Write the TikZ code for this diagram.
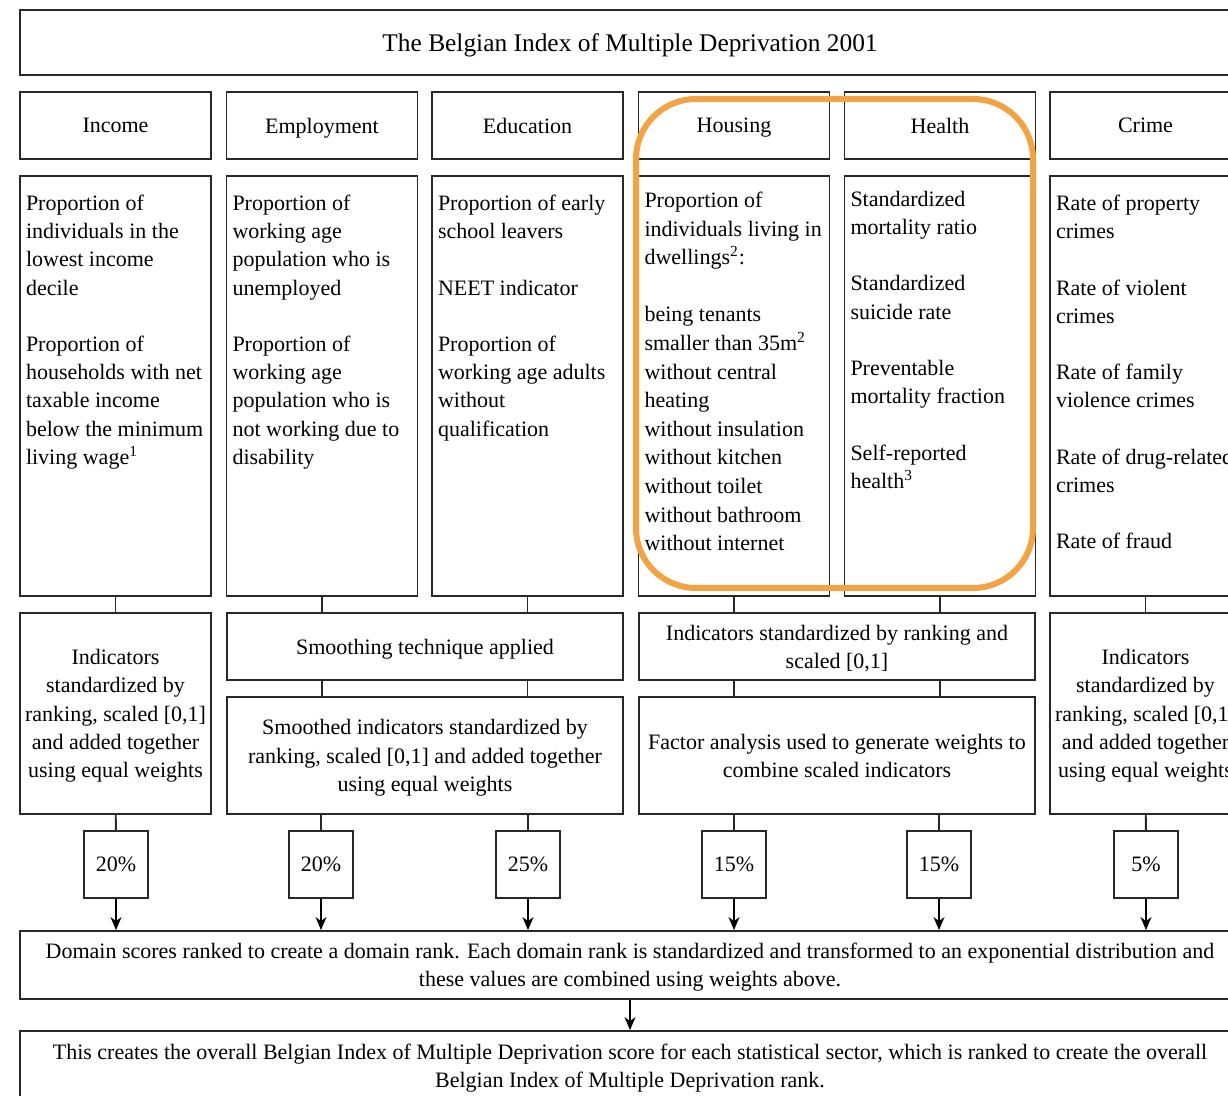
\documentclass[tikz,border=0pt]{standalone}
\usepackage{fontspec}
\setmainfont{Liberation Serif}
\usepackage{color}
\definecolor{myorange}{RGB}{242,163,68}
\definecolor{mygrey}{RGB}{40,40,40}
\usepackage{tikz}
\usetikzlibrary{arrows.meta,positioning,calc}

\begin{document}
\begin{tikzpicture}[
  x=0.5pt, y=-0.5pt,
  font=\fontsize{11}{14.1}\selectfont,
  line width=0.9pt,
  mybox/.style={
    draw=mygrey,
    rectangle,
    inner sep=0pt,
    text depth=0pt,
    align=center
    },
  myhead/.style={mybox, minimum width=95.5pt, minimum height=33.5pt},
  mylist/.style={mybox, minimum width=95.5pt, minimum height=210pt},
  mytext/.style={inner sep=0pt, align=left},
  mystd/.style={mybox, minimum width=95.5pt, minimum height=100.5pt},
  mywide/.style={mybox, minimum width=198pt},
  myperc/.style={mybox, minimum width=32pt, minimum height=33.5pt},
  mybottom/.style={mybox, minimum width=610pt, font=\fontsize{11}{14}\selectfont},
  mylink/.style={draw=mygrey},
  myarrow/.style={draw=black, -{Stealth[length=6.5pt, width=5.5pt, inset=2pt]}},
  myhilite/.style={draw=myorange, line width=3pt, rounded corners=30pt}
]
\useasboundingbox (0,0) rectangle (1228,1096);
\clip (0,0) rectangle (1228,1096);

\node [mybox, minimum width=610pt, minimum height=32.5pt, font=\fontsize{12.7}{15}\selectfont] (title)
  at (630,42.5) {The Belgian Index of Multiple Deprivation 2001};

% domains
\node [myhead] (income) at (115.5,125.5) {Income};
\node [myhead] (employ) at (322,125.5) {Employment};
\node [myhead] (educ) at (527.5,125.5) {Education};
\node [myhead] (housing) at (734,125.5) {Housing};
\node [myhead] (health) at (940,125.5) {Health};
\node [myhead] (crime) at (1145.5,125.5) {Crime};

% indicators
\node [mylist] (incomelist) at (115.5,386) {};
\node [mylist] (employlist) at (322,386) {};
\node [mylist] (educlist) at (527.5,386) {};
\node [mylist] (housinglist) at (734,386) {};
\node [mylist] (healthlist) at (940,386) {};
\node [mylist] (crimelist) at (1145.5,386) {};

\node [mytext, below right=9.5pt and 3pt of incomelist.north west] (incometext)
  {Proportion of\\individuals in the\\lowest income\\decile\\[14.1pt]
   Proportion of\\households with net\\taxable income\\below the minimum\\living wage\textsuperscript{1}};
\node [mytext, below right=9.5pt and 3pt of employlist.north west] (employtext)
  {Proportion of\\working age\\population who is\\unemployed\\[14.1pt]
   Proportion of\\working age\\population who is\\not working due to\\disability};
\node [mytext, below right=9.5pt and 3pt of educlist.north west] (eductext)
  {Proportion of early\\school leavers\\[14.1pt]
   NEET indicator\\[14.1pt]
   Proportion of\\working age adults\\without\\qualification};
\node [mytext, below right=8pt and 3pt of housinglist.north west, font=\fontsize{11}{14.3}\selectfont] (housingtext)
  {Proportion of\\individuals living in\\dwellings\textsuperscript{2}:\\[14.3pt]
   being tenants\\smaller than 35m\textsuperscript{2}\\without central\\heating\\without insulation\\
   without kitchen\\without toilet\\without bathroom\\without internet};
\node [mytext, below right=7.5pt and 3pt of healthlist.north west] (healthtext)
  {Standardized\\mortality ratio\\[14.1pt]
   Standardized\\suicide rate\\[14.1pt]
   Preventable\\mortality fraction\\[14.1pt]
   Self-reported\\health\textsuperscript{3}};
\node [mytext, below right=9.5pt and 3pt of crimelist.north west] (crimetext)
  {Rate of property\\crimes\\[14.1pt]
   Rate of violent\\crimes\\[14.1pt]
   Rate of family\\violence crimes\\[14.1pt]
   Rate of drug-related\\crimes\\[14.1pt]
   Rate of fraud};

% standardization
\node [mystd] (incomestd) at (115.5,713.5)
  {Indicators\\standardized by\\ranking, scaled [0,1]\\and added together\\using equal weights};
\node [mywide, minimum height=33.5pt] (smooth) at (425,646.5) {Smoothing technique applied};
\node [mywide, minimum height=58.5pt] (smoothstd) at (425,755.5)
  {Smoothed indicators standardized by\\ranking, scaled [0,1] and added together\\using equal weights};
\node [mywide, minimum height=33.5pt] (hhstd) at (837,646.5)
  {Indicators standardized by ranking and\\scaled [0,1]};
\node [mywide, minimum height=58.5pt] (factor) at (837,755.5)
  {Factor analysis used to generate weights to\\combine scaled indicators};
\node [mystd] (crimestd) at (1145.5,713.5)
  {Indicators\\standardized by\\ranking, scaled [0,1]\\and added together\\using equal weights};

% weights
\node [myperc] (incomew) at (116,864.5) {20\%};
\node [myperc] (employw) at (321,864.5) {20\%};
\node [myperc] (educw) at (528,864.5) {25\%};
\node [myperc] (housingw) at (734,864.5) {15\%};
\node [myperc] (healthw) at (939,864.5) {15\%};
\node [myperc] (crimew) at (1146,864.5) {5\%};

\node [mybottom, minimum height=34pt] (domain) at (630,965)
  {Domain scores ranked to create a domain rank. Each domain rank is standardized and transformed to an exponential distribution and\\
   these values are combined using weights above.};
\node [mybottom, minimum height=34.5pt] (overall) at (630,1065.5)
  {This creates the overall Belgian Index of Multiple Deprivation score for each statistical sector, which is ranked to create the overall\\
   Belgian Index of Multiple Deprivation rank.};

% links
\draw [mylink] (incomelist) -- (incomestd);
\draw [mylink] (employlist.south) -- (employlist.south |- smooth.north);
\draw [mylink] (educlist.south) -- (educlist.south |- smooth.north);
\draw [mylink] (housinglist.south) -- (housinglist.south |- hhstd.north);
\draw [mylink] (healthlist.south) -- (healthlist.south |- hhstd.north);
\draw [mylink] (crimelist) -- (crimestd);
\draw [mylink] (smooth.south -| employlist) -- (smoothstd.north -| employlist);
\draw [mylink] (smooth.south -| educlist) -- (smoothstd.north -| educlist);
\draw [mylink] (hhstd.south -| housinglist) -- (factor.north -| housinglist);
\draw [mylink] (hhstd.south -| healthlist) -- (factor.north -| healthlist);
\draw [mylink] (incomestd) -- (incomew);
\draw [mylink] (smoothstd.south -| employw) -- (employw);
\draw [mylink] (smoothstd.south -| educw) -- (educw);
\draw [mylink] (factor.south -| housingw) -- (housingw);
\draw [mylink] (factor.south -| healthw) -- (healthw);
\draw [mylink] (crimestd) -- (crimew);

\draw [myarrow] (incomew) -- (incomew |- domain.north);
\draw [myarrow] (employw) -- (employw |- domain.north);
\draw [myarrow] (educw) -- (educw |- domain.north);
\draw [myarrow] (housingw) -- (housingw |- domain.north);
\draw [myarrow] (healthw) -- (healthw |- domain.north);
\draw [myarrow] (crimew) -- (crimew |- domain.north);
\draw [myarrow] (domain) -- (overall);

% housing and health
\draw [myhilite] (636,99) rectangle (1033,588);

\end{tikzpicture}
\end{document}
